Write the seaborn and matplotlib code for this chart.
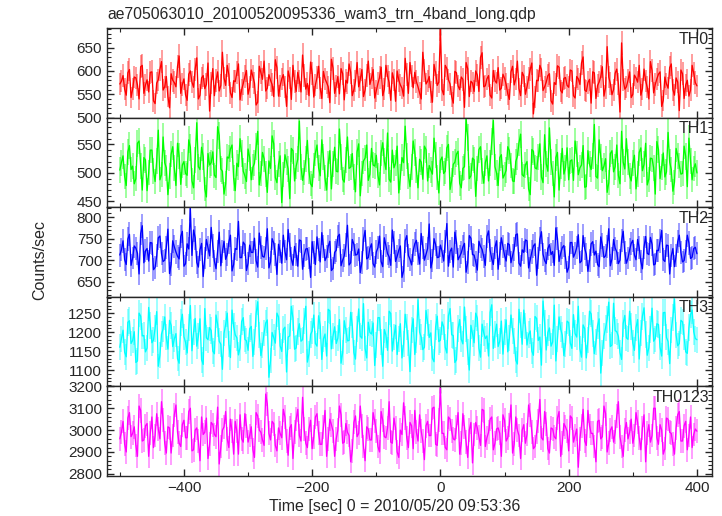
import numpy as np
import pandas as pd
import matplotlib
matplotlib.use("Agg")
import matplotlib.pyplot as plt
from matplotlib.ticker import MultipleLocator
import seaborn as sns

sns.set_theme(style="ticks")
plt.rcParams.update({"font.family": ["Liberation Sans", "DejaVu Sans"],
                     "font.size": 10, "axes.linewidth": 1.0})

TITLE = "ae705063010_20100520095336_wam3_trn_4band_long.qdp"
XLABEL = "Time [sec] 0 = 2010/05/20 09:53:36"
YLABEL = "Counts/sec"
T_START, T_END = -500, 400

# ── light curves (counts/sec)
# main readings every 5 s from -500 to 400
th0 = [572, 590, 548, 603, 561, 585, 540, 612, 570, 555, 598, 530, 581, 620, 566, 545, 594, 575, 610, 552,
       583, 537, 600, 565, 628, 548, 590, 571, 514, 605, 580, 557, 640, 569, 592, 543, 577, 615, 560, 588,
       550, 602, 574, 533, 596, 621, 563, 580, 545, 607, 568, 592, 524, 585, 612, 556, 579, 634, 561, 547,
       595, 570, 610, 541, 583, 566, 625, 552, 588, 605, 538, 574, 597, 560, 618, 582, 545, 590, 571, 603,
       558, 586, 547, 612, 575, 596, 535, 580, 563, 627, 552, 589, 597, 566, 540, 601, 578, 555, 614, 569,
       690, 549, 605, 572, 531, 596, 560, 582, 618, 545, 574, 600, 556, 639, 568, 590, 542, 579, 607, 563,
       584, 551, 598, 570, 621, 547, 589, 566, 603, 508, 580, 612, 558, 576, 594, 529, 571, 608, 553, 586,
       565, 600, 542, 583, 617, 559, 575, 531, 596, 569, 588, 546, 652, 573, 560, 604, 512, 581, 566, 598,
       550, 585, 612, 562, 579, 540, 601, 571, 593, 524, 587, 563, 615, 548, 576, 602, 541, 580, 559, 595,
       568]
th1 = [505, 530, 478, 548, 512, 490, 556, 470, 523, 501, 540, 485, 575, 497, 518, 462, 533, 509, 552, 480,
       520, 496, 545, 474, 588, 506, 529, 458, 514, 537, 492, 566, 503, 481, 526, 549, 469, 511, 534, 495,
       542, 488, 517, 573, 499, 525, 466, 508, 551, 483, 530, 497, 520, 455, 539, 512, 591, 487, 524, 503,
       476, 535, 509, 558, 491, 516, 472, 545, 502, 528, 484, 563, 510, 493, 537, 460, 521, 549, 498, 514,
       531, 479, 553, 506, 489, 540, 517, 465, 527, 582, 495, 511, 536, 474, 519, 547, 486, 505, 561, 492,
       522, 499, 544, 471, 515, 533, 482, 508, 596, 490, 526, 459, 541, 503, 518, 486, 555, 511, 478, 532,
       497, 546, 513, 485, 529, 568, 494, 520, 462, 538, 507, 551, 483, 516, 579, 499, 527, 470, 543, 509,
       488, 523, 556, 497, 514, 475, 539, 506, 585, 491, 528, 512, 466, 534, 502, 549, 481, 519, 560, 495,
       517, 472, 536, 504, 552, 489, 525, 463, 541, 510, 493, 571, 506, 484, 530, 498, 547, 476, 521, 508,
       500]
th2 = [712, 745, 690, 760, 705, 728, 668, 780, 722, 698, 740, 683, 752, 715, 700, 772, 690, 731, 709, 755,
       686, 738, 820, 770, 695, 724, 662, 748, 710, 733, 680, 765, 720, 702, 742, 675, 727, 790, 706, 736,
       693, 718, 751, 684, 729, 707, 773, 696, 740, 667, 721, 758, 701, 735, 688, 714, 747, 679, 726, 705,
       743, 690, 725, 764, 699, 732, 676, 718, 755, 687, 710, 781, 694, 737, 713, 671, 749, 703, 728, 692,
       719, 756, 685, 734, 708, 770, 697, 723, 660, 745, 711, 689, 738, 716, 762, 700, 727, 682, 750, 706,
       735, 698, 785, 720, 684, 742, 709, 731, 672, 757, 713, 696, 744, 725, 688, 768, 703, 730, 679, 752,
       711, 739, 694, 726, 761, 686, 718, 745, 700, 733, 665, 749, 714, 692, 736, 720, 775, 697, 729, 707,
       683, 741, 716, 759, 698, 727, 674, 738, 712, 690, 754, 706, 731, 687, 748, 719, 700, 767, 693, 724,
       746, 701, 729, 680, 755, 713, 737, 691, 722, 769, 697, 734, 710, 685, 743, 718, 699, 758, 704, 727,
       715]
th3 = [1160, 1205, 1135, 1230, 1178, 1120, 1250, 1190, 1148, 1265, 1172, 1210, 1110, 1195, 1240, 1155, 1218, 1182, 1130, 1225,
       1188, 1145, 1270, 1200, 1163, 1235, 1115, 1185, 1212, 1150, 1245, 1176, 1102, 1220, 1168, 1258, 1193, 1140, 1228, 1181,
       1152, 1215, 1175, 1280, 1138, 1198, 1232, 1125, 1186, 1250, 1164, 1207, 1095, 1190, 1237, 1158, 1222, 1180, 1268, 1143,
       1203, 1170, 1243, 1128, 1195, 1260, 1156, 1214, 1184, 1118, 1230, 1177, 1252, 1146, 1208, 1189, 1275, 1132, 1199, 1224,
       1167, 1238, 1110, 1192, 1255, 1150, 1218, 1183, 1132, 1247, 1172, 1206, 1141, 1285, 1187, 1160, 1226, 1198, 1122, 1242,
       1179, 1214, 1145, 1262, 1191, 1127, 1233, 1169, 1208, 1100, 1196, 1250, 1158, 1221, 1183, 1137, 1272, 1194, 1162, 1229,
       1200, 1148, 1245, 1176, 1116, 1219, 1258, 1166, 1203, 1139, 1236, 1187, 1282, 1153, 1211, 1174, 1124, 1240, 1192, 1168,
       1225, 1157, 1196, 1268, 1134, 1209, 1180, 1248, 1143, 1217, 1092, 1190, 1234, 1162, 1276, 1201, 1146, 1223, 1185, 1255,
       1171, 1212, 1129, 1242, 1194, 1159, 1263, 1183, 1220, 1137, 1252, 1175, 1206, 1287, 1164, 1231, 1188, 1144, 1246, 1201,
       1180]
th0123 = [2960, 3040, 2900, 3080, 2985, 2930, 3110, 2950, 3020, 2880, 3060, 2975, 3005, 3130, 2940, 3015, 2895, 3070, 2990, 2925,
          3045, 2965, 3100, 2910, 3010, 2860, 2980, 3055, 2935, 3025, 2970, 2845, 3000, 3085, 2920, 2995, 3040, 2890, 2960, 3075,
          2945, 3015, 2875, 3065, 2990, 2930, 3120, 2955, 3030, 2905, 2985, 3095, 2950, 3010, 2870, 3050, 2975, 3150, 2940, 3005,
          2915, 3060, 2985, 2935, 3090, 2960, 3025, 2880, 3000, 3070, 2945, 2990, 2855, 3035, 2970, 3110, 2925, 3015, 2955, 3080,
          2995, 2900, 3045, 2965, 3130, 2940, 3010, 2875, 2980, 3055, 2920, 3020, 3090, 2950, 2995, 2865, 3040, 2975, 3105, 2930,
          3190, 2985, 2910, 3050, 2960, 3015, 2890, 3075, 2945, 3000, 2850, 3035, 2970, 3095, 2925, 2990, 3060, 2940, 3010, 2880,
          3045, 2965, 3115, 2935, 3000, 2870, 3025, 2980, 3070, 2915, 2990, 3140, 2955, 3030, 2895, 3005, 2960, 3085, 2940, 3015,
          2905, 3055, 2975, 2830, 3020, 2950, 3090, 2985, 2925, 3040, 2960, 3110, 2900, 3000, 2945, 3065, 2970, 2880, 3035, 2990,
          2940, 3080, 2965, 3010, 2855, 3025, 2975, 3100, 2935, 3000, 2915, 3050, 2985, 2890, 3070, 2950, 3020, 2910, 3060, 2980,
          2995]

# in-between readings, every 5 s from -497.5 to 397.5
th0_half = [578, 561, 596, 543, 587, 570, 609, 552, 581, 597, 536, 574, 603, 559, 588, 521, 580, 566, 632, 571,
            549, 593, 576, 604, 540, 585, 562, 617, 574, 547, 598, 569, 585, 612, 553, 579, 596, 538, 573, 601,
            565, 588, 527, 610, 582, 557, 592, 571, 624, 546, 583, 565, 600, 539, 577, 597, 555, 590, 573, 619,
            544, 586, 563, 599, 575, 532, 606, 568, 551, 594, 580, 615, 547, 578, 566, 603, 559, 621, 585, 542,
            573, 608, 561, 589, 537, 581, 600, 570, 546, 592, 618, 564, 577, 553, 640, 572, 588, 533, 596, 576,
            560, 612, 581, 545, 599, 568, 587, 522, 605, 578, 556, 591, 629, 566, 583, 548, 601, 574, 559, 593,
            571, 539, 610, 583, 562, 597, 550, 585, 617, 544, 579, 603, 566, 590, 536, 575, 611, 558, 584, 569,
            602, 547, 588, 571, 630, 556, 582, 598, 541, 576, 609, 564, 587, 549, 595, 572, 660, 561, 580, 543,
            591, 576, 548, 604, 565, 620, 553, 583, 598, 537, 572, 607, 560, 585, 515, 594, 570, 546, 612, 575]
th1_half = [518, 494, 537, 506, 481, 552, 512, 527, 469, 540, 503, 521, 488, 563, 509, 495, 546, 478, 530, 514,
            499, 558, 486, 523, 511, 545, 472, 534, 518, 496, 581, 507, 463, 528, 542, 491, 517, 560, 503, 485,
            527, 510, 546, 479, 536, 498, 521, 565, 492, 515, 448, 532, 507, 543, 486, 524, 511, 501, 557, 481,
            513, 549, 495, 528, 470, 539, 516, 503, 577, 489, 522, 508, 534, 467, 551, 499, 526, 487, 543, 512,
            496, 535, 521, 570, 484, 509, 547, 493, 518, 530, 476, 556, 505, 524, 489, 541, 513, 498, 532, 465,
            528, 503, 550, 487, 519, 538, 474, 511, 562, 495, 523, 508, 546, 482, 530, 517, 592, 500, 527, 491,
            505, 539, 486, 520, 553, 497, 514, 472, 541, 509, 528, 493, 567, 503, 519, 458, 536, 512, 498, 544,
            521, 487, 533, 509, 548, 476, 515, 530, 494, 558, 504, 525, 483, 539, 511, 496, 573, 507, 520, 486,
            531, 498, 544, 515, 479, 526, 509, 555, 490, 535, 502, 519, 468, 543, 513, 499, 529, 561, 488, 516]
th2_half = [724, 701, 749, 688, 733, 716, 762, 694, 727, 741, 678, 710, 756, 697, 730, 669, 745, 719, 703, 767,
            692, 726, 711, 752, 684, 739, 705, 729, 776, 698, 721, 687, 744, 713, 758, 690, 725, 706, 742, 676,
            735, 718, 699, 763, 709, 728, 682, 750, 714, 737, 693, 720, 771, 703, 732, 686, 745, 711, 727, 660,
            717, 754, 696, 731, 708, 744, 681, 723, 760, 700, 735, 689, 748, 712, 726, 695, 769, 706, 738, 684,
            729, 697, 752, 715, 688, 741, 709, 733, 675, 757, 702, 722, 746, 691, 730, 714, 784, 699, 736, 707,
            720, 743, 686, 728, 765, 701, 717, 739, 694, 751, 712, 677, 732, 708, 755, 723, 690, 745, 715, 731,
            698, 736, 711, 759, 693, 724, 747, 682, 719, 738, 705, 766, 699, 727, 713, 688, 750, 716, 734, 672,
            741, 707, 729, 694, 757, 714, 700, 743, 721, 685, 735, 710, 773, 703, 728, 692, 746, 718, 705, 739,
            712, 748, 697, 730, 716, 753, 689, 723, 744, 701, 735, 668, 727, 710, 758, 696, 721, 740, 707, 730]
th3_half = [1183, 1147, 1226, 1170, 1201, 1124, 1242, 1191, 1158, 1217, 1179, 1254, 1139, 1208, 1186, 1231, 1162, 1196, 1118, 1247,
            1173, 1212, 1151, 1236, 1189, 1127, 1262, 1180, 1204, 1143, 1221, 1168, 1197, 1250, 1133, 1215, 1185, 1159, 1238, 1177,
            1209, 1136, 1248, 1192, 1165, 1224, 1081, 1199, 1171, 1240, 1149, 1213, 1187, 1268, 1155, 1202, 1176, 1229, 1121, 1194,
            1245, 1163, 1218, 1182, 1137, 1256, 1190, 1170, 1233, 1146, 1205, 1178, 1219, 1129, 1261, 1184, 1157, 1226, 1195, 1112,
            1238, 1174, 1207, 1152, 1249, 1188, 1141, 1222, 1169, 1213, 1096, 1235, 1179, 1200, 1154, 1257, 1186, 1131, 1214, 1175,
            1227, 1160, 1243, 1193, 1120, 1209, 1181, 1266, 1147, 1218, 1172, 1237, 1134, 1198, 1190, 1252, 1157, 1221, 1176, 1142,
            1232, 1185, 1203, 1126, 1260, 1168, 1216, 1194, 1150, 1241, 1178, 1113, 1224, 1199, 1163, 1271, 1183, 1208, 1138, 1229,
            1171, 1246, 1187, 1156, 1219, 1132, 1255, 1196, 1174, 1235, 1145, 1211, 1279, 1166, 1204, 1189, 1128, 1244, 1181, 1215,
            1152, 1233, 1197, 1264, 1139, 1207, 1176, 1222, 1160, 1251, 1186, 1117, 1239, 1192, 1170, 1227, 1148, 1212, 1258, 1183]
th0123_half = [2990, 2935, 3055, 2970, 3015, 2880, 3090, 2955, 3030, 2985, 2920, 3075, 2960, 3045, 2895, 3010, 2975, 3115, 2940, 3025,
               2965, 3085, 2905, 3000, 2950, 3060, 2990, 2870, 3035, 2980, 3105, 2925, 3015, 2960, 3050, 2890, 2995, 3070, 2945, 3020,
               2975, 2910, 3080, 3000, 2955, 3165, 2985, 3040, 2930, 3010, 2965, 3060, 2885, 3025, 2990, 3095, 2950, 3005, 2920, 3045,
               2970, 3075, 2935, 3015, 2880, 3050, 2995, 2960, 3110, 2940, 3030, 2975, 2905, 3065, 2985, 3020, 2860, 3005, 2955, 3040,
               2925, 3085, 2970, 3010, 2945, 3055, 2900, 3000, 3125, 2965, 3035, 2915, 2990, 3070, 2950, 3020, 2975, 3100, 2935, 3045,
               2985, 2920, 3060, 2995, 2955, 3080, 2940, 3015, 2875, 3035, 2980, 3010, 2930, 3090, 2965, 3050, 2910, 3005, 2985, 3070,
               2950, 3025, 2895, 3060, 2975, 3000, 2940, 3115, 2990, 2925, 3040, 2965, 3085, 2915, 3010, 2970, 3055, 2880, 3030, 2995,
               3065, 2945, 3005, 2960, 3095, 2930, 3020, 2985, 2855, 3045, 2970, 3075, 2940, 3015, 2990, 3130, 2925, 3000, 2960, 3050,
               2975, 3035, 2910, 3070, 2985, 2945, 3100, 2965, 3025, 2890, 3055, 2990, 2935, 3010, 3085, 2950, 3040, 2975, 2920, 3005]

bands = ["TH0", "TH1", "TH2", "TH3", "TH0123"]
series = [th0, th1, th2, th3, th0123]
series_half = [th0_half, th1_half, th2_half, th3_half, th0123_half]
colors = ["#ff0000", "#00ff00", "#0000ff", "#00ffff", "#ff00ff"]
ylims = [(500, 692), (440, 597), (615, 823), (1057, 1293), (2790, 3200)]
ymajor = [50, 50, 50, 50, 100]
yminor = [10, 10, 10, 10, 20]

fig, axes = plt.subplots(5, 1, figsize=(7.22, 5.16), dpi=100, sharex=True)
fig.subplots_adjust(left=107/722, right=712/722, top=1-28/516, bottom=1-476/516, hspace=0)

for ax, band, vals, vals_h, col, yl, maj, mnr in zip(axes, bands, series, series_half,
                                                     colors, ylims, ymajor, yminor):
    t_main = np.linspace(T_START, T_END, len(vals))
    t_half = np.linspace(T_START + 2.5, T_END - 2.5, len(vals_h))
    df = pd.DataFrame({"time": np.concatenate([t_main, t_half]),
                       "rate": np.array(vals + vals_h, dtype=float)}).sort_values("time")
    err = np.sqrt(df["rate"])
    # pale 1-sigma error bars, then the curve on top
    ax.vlines(df["time"], df["rate"] - err, df["rate"] + err, color=col, alpha=0.45,
              linewidth=1.2, zorder=1)
    sns.lineplot(data=df, x="time", y="rate", ax=ax, color=col, linewidth=0.95, zorder=2)
    ax.set_ylim(*yl)
    ax.set_xlim(-520, 423.5)
    ax.yaxis.set_major_locator(MultipleLocator(maj))
    ax.yaxis.set_minor_locator(MultipleLocator(mnr))
    ax.xaxis.set_major_locator(MultipleLocator(200))
    ax.xaxis.set_minor_locator(MultipleLocator(100))
    ax.tick_params(which="both", direction="in", top=True, right=True, labelsize=11)
    ax.tick_params(which="major", length=5, width=1)
    ax.tick_params(which="minor", length=3, width=0.8)
    ax.set_ylabel("")
    ax.set_xlabel("")
    ax.text(0.995, 0.96, band, transform=ax.transAxes, ha="right", va="top", fontsize=11.5)

fig.text(395/722, 1-507/516, XLABEL, ha="center", va="center", fontsize=11.5)
fig.text(107/722, 1-14/516, TITLE, ha="left", va="center", fontsize=11.3)
fig.text(40/722, 0.497, YLABEL, rotation=90, ha="center", va="center", fontsize=11.5)

plt.savefig("out.png", dpi=100)
plt.close()
